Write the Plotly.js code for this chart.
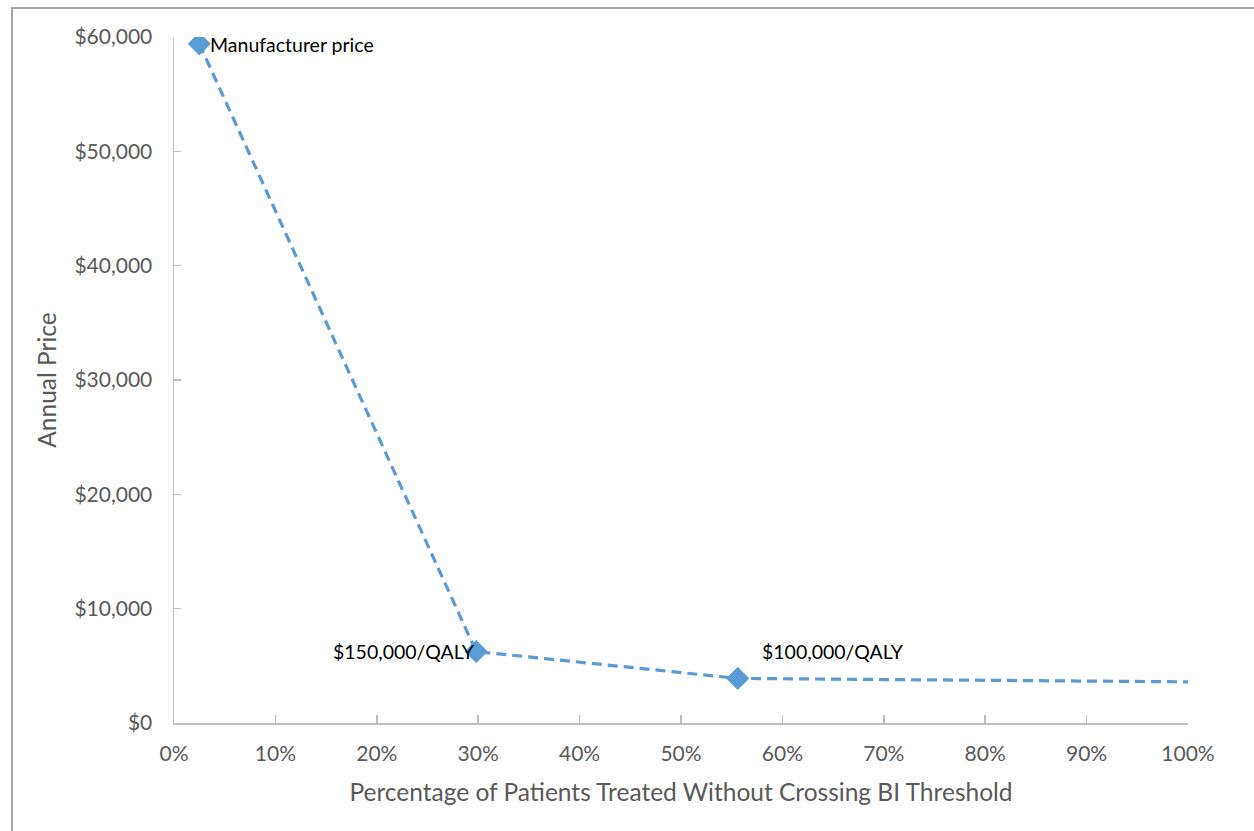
<!DOCTYPE html>
<html>
<head>
<meta charset="utf-8">
<script src="https://cdn.plot.ly/plotly-3.0.1.min.js"></script>
<style>
  html, body { margin: 0; padding: 0; background: #fff; overflow: hidden; width: 1254px; height: 831px; }
  #frame { position: absolute; left: 11px; top: 7px; width: 1260px; height: 840px; border: 2px solid #a6a6a6; box-sizing: border-box; }
  #chart { position: absolute; left: 13px; top: 9px; width: 1250px; height: 830px; }
</style>
</head>
<body>
<div id="frame"></div>
<div id="chart"></div>
<script>
// Data
const shareTreated = [0.025, 0.298, 0.556, 1.0];
const annualPrice = [59400, 6250, 3900, 3600];
const pointLabels = ["Manufacturer price", "$150,000/QALY", "$100,000/QALY", ""];
const xTickVals = [0, 0.1, 0.2, 0.3, 0.4, 0.5, 0.6, 0.7, 0.8, 0.9, 1.0];
const xTickText = ["0%", "10%", "20%", "30%", "40%", "50%", "60%", "70%", "80%", "90%", "100%"];
const yTickVals = [0, 10000, 20000, 30000, 40000, 50000, 60000];
const yTickText = ["$0", "$10,000", "$20,000", "$30,000", "$40,000", "$50,000", "$60,000"];

const trace = {
  x: shareTreated,
  y: annualPrice,
  type: 'scatter',
  mode: 'lines+markers',
  line: { color: '#5b9bd5', width: 3.2, dash: '10px,6px' },
  marker: { symbol: 'diamond', size: [17, 17, 17, 0], color: '#5b9bd5', opacity: 1, line: { width: 1, color: '#5b9bd5' } },
  hoverinfo: 'none'
};

const labelFont = { family: 'Lato, "Open Sans", sans-serif', size: 19.5, color: '#000' };
const annotations = [
  { x: shareTreated[0], y: annualPrice[0], text: pointLabels[0], xanchor: 'left', yanchor: 'middle', xshift: 9, yshift: -1 },
  { x: shareTreated[1], y: annualPrice[1], text: pointLabels[1], xanchor: 'right', yanchor: 'middle', xshift: 1, yshift: 0 },
  { x: shareTreated[2], y: annualPrice[2], text: pointLabels[2], xanchor: 'left', yanchor: 'middle', xshift: 22, yshift: 27 }
].map(a => Object.assign({ xref: 'x', yref: 'y', showarrow: false, font: labelFont }, a));

const tickFont = { family: 'Lato, "Open Sans", sans-serif', size: 21, color: '#595959' };
const titleFont = { family: 'Lato, "Open Sans", sans-serif', size: 24.5, color: '#595959' };
const layout = {
  width: 1250, height: 830,
  margin: { l: 161, r: 75, t: 28, b: 116 },
  paper_bgcolor: 'rgba(0,0,0,0)',
  plot_bgcolor: 'rgba(0,0,0,0)',
  showlegend: false,
  xaxis: {
    range: [0, 1],
    tickmode: 'array',
    tickvals: xTickVals,
    ticktext: xTickText,
    showgrid: false, zeroline: false,
    showline: true, linecolor: '#bfbfbf', linewidth: 1.5,
    ticks: 'inside', ticklen: 8, tickcolor: '#bfbfbf', tickwidth: 1.5,
    ticklabelstandoff: 11,
    tickfont: tickFont,
    title: { text: 'Percentage of Patients Treated Without Crossing BI Threshold', font: titleFont, standoff: 20 }
  },
  yaxis: {
    range: [0, 60000],
    tickmode: 'array',
    tickvals: yTickVals,
    ticktext: yTickText,
    showgrid: false, zeroline: false,
    showline: true, linecolor: '#bfbfbf', linewidth: 1.5,
    ticks: 'inside', ticklen: 7, tickcolor: '#bfbfbf', tickwidth: 1.5,
    ticklabelstandoff: 16,
    tickfont: tickFont,
    title: { text: 'Annual Price', font: titleFont, standoff: 11 }
  },
  annotations: annotations
};

Plotly.newPlot('chart', [trace], layout, { displayModeBar: false, staticPlot: true });
</script>
</body>
</html>
